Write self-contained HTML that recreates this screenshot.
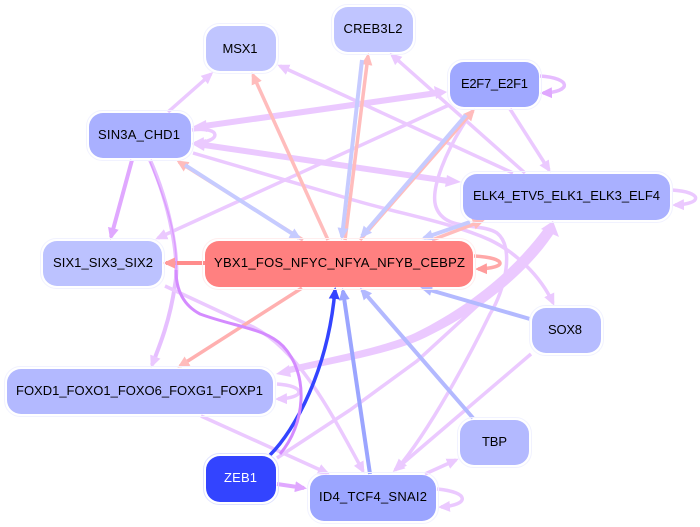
<!DOCTYPE html>
<html><head><meta charset="utf-8"><style>
html,body{margin:0;padding:0;background:#fff}
svg{display:block}
text{font-family:"Liberation Sans",sans-serif;font-size:13px;fill:#000;text-anchor:middle}
.e{fill:none;stroke-linecap:butt}
.o{fill:none;stroke:#f1f2ff;stroke-width:1}
.n{stroke:none}
</style></head><body>
<svg width="700" height="527" viewBox="0 0 700 527" xmlns="http://www.w3.org/2000/svg">
<defs>
<marker id="l" markerUnits="userSpaceOnUse" markerWidth="14" markerHeight="14" viewBox="0 0 14 14" refX="9" refY="7" orient="auto-start-reverse"><path d="M0,1.5L12,7L0,12.5z" fill="#ebc9ff"/></marker>
<marker id="m" markerUnits="userSpaceOnUse" markerWidth="14" markerHeight="14" viewBox="0 0 14 14" refX="9" refY="7" orient="auto-start-reverse"><path d="M0,1.5L12,7L0,12.5z" fill="#e0a8ff"/></marker>
<marker id="p" markerUnits="userSpaceOnUse" markerWidth="14" markerHeight="14" viewBox="0 0 14 14" refX="9" refY="7" orient="auto"><path d="M0,1.5L12,7L0,12.5z" fill="#ffbcbc"/></marker>
<marker id="q" markerUnits="userSpaceOnUse" markerWidth="14" markerHeight="14" viewBox="0 0 14 14" refX="9" refY="7" orient="auto"><path d="M0,1.5L12,7L0,12.5z" fill="#ff9c9c"/></marker>
<marker id="b" markerUnits="userSpaceOnUse" markerWidth="14" markerHeight="14" viewBox="0 0 14 14" refX="9" refY="7" orient="auto"><path d="M0,1.5L12,7L0,12.5z" fill="#c6cbff"/></marker>
<marker id="c" markerUnits="userSpaceOnUse" markerWidth="14" markerHeight="14" viewBox="0 0 14 14" refX="9" refY="7" orient="auto"><path d="M0,1.5L12,7L0,12.5z" fill="#b3b9ff"/></marker>
<marker id="d" markerUnits="userSpaceOnUse" markerWidth="14" markerHeight="14" viewBox="0 0 14 14" refX="9" refY="7" orient="auto"><path d="M0,1.5L12,7L0,12.5z" fill="#9ba5ff"/></marker>
<marker id="z" markerUnits="userSpaceOnUse" markerWidth="14" markerHeight="14" viewBox="0 0 14 14" refX="9" refY="7" orient="auto"><path d="M0,1.5L12,7L0,12.5z" fill="#3344ff"/></marker>
</defs>

<g class="e" stroke="#ebc9ff" stroke-width="3.500">
<path d="M168,112L211,74" marker-end="url(#l)"/>
<path d="M513,173L280,66" marker-end="url(#l)"/>
<path d="M525,173L392,55" marker-end="url(#l)"/>
<path d="M204,126L437,93" stroke-width="6"/>
<path d="M192,130C222,126 222,142 195,143" marker-end="url(#l)"/>
<path d="M204,145L448,181" stroke-width="6"/>
<path d="M193,153L350,199C400,214 450,222 490,240C515,252 540,275 553,303" marker-end="url(#l)"/>
<path d="M449,105L158,238" marker-end="url(#l)"/>
<path d="M150,160C170,205 180,260 175,285C170,320 160,345 152,365" stroke-width="4" stroke="#e6bfff" marker-end="url(#l)"/>
<path d="M510,109L549,170" marker-end="url(#l)"/>
<path d="M473,110C445,150 430,190 436,207C445,232 480,222 497,233C515,247 505,290 490,314C470,355 430,430 397,469" marker-end="url(#l)"/>
<path d="M277,458L350,410L417,361L523,264L552,224"/>
<path d="M531,354L395,470" marker-end="url(#l)"/>
<path d="M165,286L253,327C300,350 335,420 363,471" marker-end="url(#l)"/>
<path d="M201,416L327,473" marker-end="url(#l)"/>
<path d="M425,474L456,460" marker-end="url(#l)"/>
<path d="M437,489C470,492 470,505 441,507" marker-end="url(#l)"/>
<path d="M672,190C703,192 703,204 675,205" marker-end="url(#l)"/>
<path d="M277,384C306,386 306,398 278,399" marker-end="url(#l)"/>
</g>
<g fill="#ebc9ff" stroke="none">
<path d="M546,226C520,262 478,302 415,333C385,347 330,357 288,367L290,373C335,363 388,354 420,340C485,310 532,268 556,230Z"/>
<polygon points="553,221 541,229 559,237"/>
<polygon points="276,374 289,365 291,377"/>
<polygon points="192,127 206,120 207,132"/>
<polygon points="447,92 434,86 436,99"/>
<polygon points="192,144 206,139 204,151"/>
<polygon points="461,182 447,175 445,187"/>
</g>
<g class="e" stroke="#e6bcff" stroke-width="3.500">
<path d="M540,76C572,78 572,92 543,93" marker-end="url(#m)"/>
</g>
<path class="e" stroke="#e0a8ff" stroke-width="4" d="M132,160L111,237" marker-end="url(#m)"/>
<path class="e" stroke="#e0a8ff" stroke-width="4" d="M277,484L304,488" marker-end="url(#m)"/>

<g class="e" stroke="#ffbcbc" stroke-width="3.500">
<path d="M328,240L253,75" marker-end="url(#p)"/>
<path d="M345,240L368,56" marker-end="url(#p)"/>
<path d="M303,240L179,162" marker-end="url(#p)"/>
<path d="M360,240L473,111" marker-end="url(#p)"/>
<path d="M432,240L482,221" marker-end="url(#p)"/>
<path d="M302,288L180,366" stroke="#ffb0b0" marker-end="url(#p)"/>
</g>
<g class="e" stroke="#c6cbff" stroke-width="4">
<path d="M362,60L342,237" marker-end="url(#b)"/>
<path d="M185,165L299,238" marker-end="url(#b)"/>
<path d="M466,115L362,236" marker-end="url(#b)"/>
<path d="M470,222L424,238" marker-end="url(#b)"/>
</g>
<path class="e" stroke="#ff8c8c" stroke-width="4" d="M205,263L166,263" marker-end="url(#q)"/>
<path class="e" stroke="#ffa8a8" stroke-width="3.500" d="M474,256C508,258 508,268 478,269" marker-end="url(#q)"/>
<g class="e" stroke="#b3b9ff" stroke-width="4">
<path d="M473,418L362,290" marker-end="url(#c)"/>
<path d="M530,319L423,288" marker-end="url(#c)"/>
</g>
<path class="e" stroke="#9ba5ff" stroke-width="4" d="M370,474L343,291" marker-end="url(#d)"/>
<path class="e" stroke="#3344ff" stroke-width="3.500" d="M270,455C295,430 328,370 335,290" marker-end="url(#z)"/>
<path class="e" stroke="#dc9dff" stroke-width="1.500" d="M176,270C178,235 165,200 150,162"/>
<path class="e" stroke="#d48bff" stroke-width="3" d="M280,454C305,425 310,375 283,346C265,328 235,327 200,314C183,305 176,290 176,270"/>

<g>
<rect class="o" x="203.500" y="23.500" width="75" height="50" rx="16"/><rect class="n" x="206" y="26" width="70" height="45" rx="14" fill="#c0c5ff"/>
<rect class="o" x="331.500" y="4.500" width="84" height="50" rx="16"/><rect class="n" x="334" y="7" width="79" height="45" rx="14" fill="#c0c5ff"/>
<rect class="o" x="447.500" y="59.500" width="94" height="50" rx="16"/><rect class="n" x="450" y="62" width="89" height="45" rx="14" fill="#9fa8ff"/>
<rect class="o" x="86.500" y="110.500" width="107" height="50" rx="16"/><rect class="n" x="89" y="113" width="102" height="45" rx="14" fill="#a9b0ff"/>
<rect class="o" x="460.500" y="171.500" width="212" height="51" rx="16"/><rect class="n" x="463" y="174" width="207" height="46" rx="14" fill="#a9b0ff"/>
<rect class="o" x="40.500" y="238.500" width="124" height="50" rx="16"/><rect class="n" x="43" y="241" width="119" height="45" rx="14" fill="#bcc2ff"/>
<rect class="o" x="202.500" y="238.500" width="273" height="51" rx="16" style="stroke:#ffeeee"/><rect class="n" x="205" y="241" width="268" height="46" rx="14" fill="#ff8080"/>
<rect class="o" x="529.500" y="305.500" width="74" height="50" rx="16"/><rect class="n" x="532" y="308" width="69" height="45" rx="14" fill="#b6bcff"/>
<rect class="o" x="4.500" y="366.500" width="271" height="50" rx="16"/><rect class="n" x="7" y="369" width="266" height="45" rx="14" fill="#b3b9ff"/>
<rect class="o" x="203.500" y="453.500" width="75" height="51" rx="16" style="stroke:#dfe2ff"/><rect class="n" x="206" y="456" width="70" height="46" rx="14" fill="#3344ff"/>
<rect class="o" x="307.500" y="472.500" width="131" height="51" rx="16"/><rect class="n" x="310" y="475" width="126" height="46" rx="14" fill="#9ba5ff"/>
<rect class="o" x="457.500" y="417.500" width="74" height="50" rx="16"/><rect class="n" x="460" y="420" width="69" height="45" rx="14" fill="#b3b9ff"/>
</g>

<text x="240" y="53" textLength="35">MSX1</text>
<text x="373" y="33" textLength="59">CREB3L2</text>
<text x="494.500" y="88" textLength="67">E2F7_E2F1</text>
<text x="139" y="139" textLength="82">SIN3A_CHD1</text>
<text x="566.500" y="200" textLength="187">ELK4_ETV5_ELK1_ELK3_ELF4</text>
<text x="103" y="267" textLength="100">SIX1_SIX3_SIX2</text>
<text x="339.500" y="267" textLength="251">YBX1_FOS_NFYC_NFYA_NFYB_CEBPZ</text>
<text x="565" y="334" textLength="34">SOX8</text>
<text x="139.500" y="395" textLength="247">FOXD1_FOXO1_FOXO6_FOXG1_FOXP1</text>
<text x="240.500" y="482" textLength="33" style="fill:#fff">ZEB1</text>
<text x="373" y="501" textLength="108">ID4_TCF4_SNAI2</text>
<text x="494.500" y="446" textLength="25">TBP</text>
</svg>
</body></html>
